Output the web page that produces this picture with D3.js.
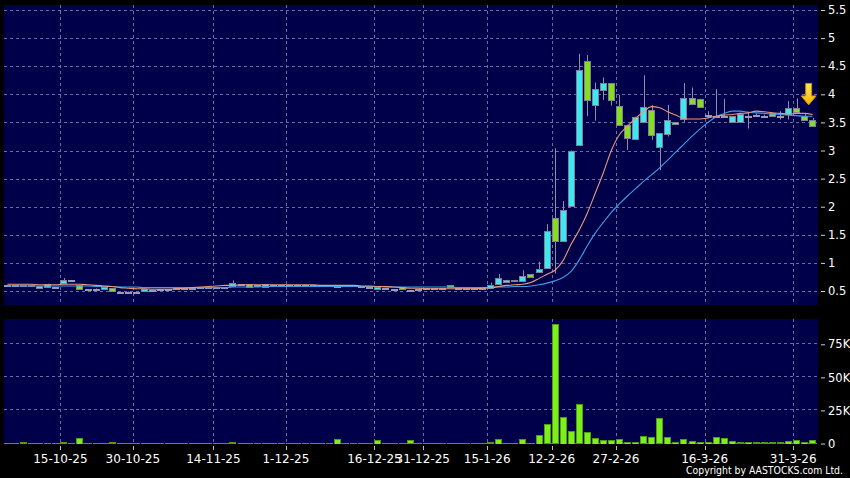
<!DOCTYPE html>
<html><head><meta charset="utf-8">
<script src="https://cdn.jsdelivr.net/npm/d3@7"></script>
<style>html,body{margin:0;padding:0;background:#000;overflow:hidden}svg{display:block}</style>
</head><body><svg id="c" width="850" height="478"></svg>
<script>
// ---------- DATA ----------
const dates = [
 "3-10-25","6-10-25","8-10-25","9-10-25","10-10-25","13-10-25","14-10-25","15-10-25","16-10-25","17-10-25",
 "20-10-25","21-10-25","22-10-25","23-10-25","24-10-25","27-10-25","30-10-25","31-10-25","3-11-25","4-11-25",
 "5-11-25","6-11-25","7-11-25","10-11-25","12-11-25","13-11-25","14-11-25","17-11-25","18-11-25","20-11-25",
 "21-11-25","24-11-25","25-11-25","27-11-25","28-11-25","1-12-25","2-12-25","3-12-25","4-12-25","5-12-25",
 "8-12-25","9-12-25","10-12-25","11-12-25","12-12-25","15-12-25","16-12-25","17-12-25","19-12-25","22-12-25",
 "23-12-25","29-12-25","31-12-25","2-1-26","5-1-26","6-1-26","8-1-26","9-1-26","12-1-26","14-1-26",
 "15-1-26","20-1-26","23-1-26","28-1-26","2-2-26","5-2-26","9-2-26","11-2-26","12-2-26","13-2-26",
 "16-2-26","20-2-26","23-2-26","24-2-26","25-2-26","26-2-26","27-2-26","2-3-26","3-3-26","4-3-26",
 "5-3-26","6-3-26","9-3-26","10-3-26","11-3-26","12-3-26","13-3-26","16-3-26","17-3-26","18-3-26",
 "19-3-26","20-3-26","23-3-26","24-3-26","25-3-26","26-3-26","27-3-26","30-3-26","31-3-26","1-4-26",
 "2-4-26"];
const open = [
 0.60,0.60,0.60,0.59,0.55,0.57,0.58,0.63,0.69,0.60,
 0.54,0.54,0.54,0.55,0.48,0.48,0.48,0.49,0.52,0.53,
 0.54,0.55,0.56,0.56,0.57,0.57,0.58,0.58,0.59,0.63,
 0.62,0.60,0.62,0.60,0.61,0.61,0.60,0.60,0.61,0.60,
 0.60,0.59,0.60,0.60,0.59,0.58,0.54,0.55,0.54,0.57,
 0.51,0.54,0.55,0.55,0.56,0.60,0.56,0.55,0.55,0.56,
 0.54,0.64,0.66,0.67,0.68,0.80,0.84,0.91,1.80,1.39,
 2.02,3.11,4.60,3.80,4.08,4.20,3.80,3.46,3.21,3.51,
 3.72,3.06,3.29,3.47,3.57,3.94,3.92,3.63,3.62,3.62,
 3.51,3.51,3.62,3.63,3.62,3.67,3.62,3.65,3.76,3.61,
 3.55];
const high = [
 0.60,0.61,0.60,0.61,0.59,0.63,0.58,0.73,0.69,0.60,
 0.54,0.55,0.57,0.55,0.48,0.49,0.48,0.53,0.52,0.53,
 0.54,0.55,0.56,0.56,0.57,0.57,0.58,0.58,0.69,0.63,
 0.62,0.60,0.62,0.60,0.61,0.61,0.60,0.60,0.61,0.60,
 0.60,0.59,0.60,0.60,0.59,0.58,0.57,0.55,0.54,0.57,
 0.51,0.54,0.55,0.55,0.56,0.60,0.56,0.55,0.55,0.56,
 0.65,0.80,0.70,0.70,0.87,0.80,1.02,1.69,3.04,2.10,
 3.00,4.72,4.70,4.21,4.30,4.20,3.99,3.46,3.60,4.34,
 3.81,3.31,3.81,3.50,4.20,4.12,3.92,3.70,4.09,3.92,
 3.61,3.65,3.69,3.66,3.64,3.67,3.70,3.88,3.93,3.65,
 3.58];
const low = [
 0.60,0.60,0.59,0.59,0.55,0.57,0.58,0.63,0.69,0.53,
 0.54,0.54,0.54,0.49,0.48,0.48,0.47,0.49,0.52,0.53,
 0.54,0.55,0.56,0.56,0.57,0.57,0.58,0.58,0.59,0.63,
 0.57,0.60,0.57,0.60,0.61,0.61,0.60,0.60,0.61,0.60,
 0.60,0.59,0.60,0.60,0.59,0.58,0.54,0.55,0.54,0.53,
 0.51,0.54,0.55,0.55,0.56,0.57,0.56,0.55,0.55,0.56,
 0.54,0.64,0.66,0.66,0.68,0.74,0.84,0.91,0.81,1.39,
 2.02,3.11,3.61,3.53,3.90,3.80,3.47,3.01,3.21,3.51,
 3.19,2.65,3.25,3.47,3.51,3.83,3.77,3.58,3.60,3.60,
 3.51,3.51,3.39,3.60,3.58,3.61,3.55,3.55,3.69,3.54,
 3.45];
const close = [
 0.60,0.60,0.59,0.60,0.59,0.62,0.58,0.69,0.69,0.53,
 0.54,0.54,0.57,0.49,0.48,0.48,0.48,0.53,0.52,0.53,
 0.54,0.55,0.56,0.56,0.57,0.57,0.58,0.58,0.64,0.63,
 0.57,0.60,0.57,0.60,0.61,0.61,0.60,0.60,0.61,0.60,
 0.60,0.59,0.60,0.60,0.59,0.58,0.57,0.55,0.54,0.53,
 0.51,0.54,0.55,0.55,0.56,0.57,0.56,0.55,0.55,0.56,
 0.60,0.74,0.69,0.69,0.77,0.74,0.90,1.56,1.39,1.95,
 3.00,4.44,3.91,4.09,4.20,3.89,3.47,3.22,3.60,3.78,
 3.28,3.31,3.54,3.50,3.94,3.83,3.77,3.63,3.62,3.62,
 3.61,3.65,3.62,3.63,3.62,3.61,3.62,3.76,3.69,3.54,
 3.45];
const volume = [
 300,200,800,200,300,600,200,800,200,4200,
 300,500,300,800,300,200,200,300,100,200,
 100,200,100,200,100,200,100,200,800,300,
 300,200,300,100,200,100,200,100,200,100,
 200,3500,100,200,100,200,3000,200,300,300,
 2300,300,200,100,200,300,200,300,500,600,
 1000,3500,500,400,3500,500,6500,14400,90000,20200,
 9800,29500,8800,4500,2800,2800,3500,1500,1500,5500,
 5000,19100,5000,1200,3500,2000,1200,1200,5000,4500,
 2000,800,1200,800,800,800,800,2000,2800,1500,
 2500];
const maShort = [
 0.62,0.62,0.62,0.62,0.61,0.61,0.61,0.62,0.62,0.62,
 0.61,0.60,0.59,0.58,0.56,0.55,0.54,0.54,0.53,0.53,
 0.53,0.54,0.55,0.56,0.57,0.58,0.59,0.60,0.60,0.61,
 0.61,0.61,0.61,0.61,0.61,0.61,0.61,0.61,0.61,0.60,
 0.60,0.60,0.60,0.60,0.59,0.59,0.58,0.58,0.57,0.56,
 0.55,0.55,0.54,0.54,0.54,0.54,0.54,0.54,0.54,0.55,
 0.56,0.58,0.60,0.61,0.62,0.65,0.72,0.80,0.87,1.04,
 1.33,1.58,1.88,2.24,2.60,3.00,3.28,3.43,3.57,3.69,
 3.78,3.76,3.69,3.63,3.57,3.56,3.56,3.58,3.61,3.63,
 3.64,3.66,3.67,3.70,3.69,3.67,3.66,3.65,3.66,3.66,
 3.64];
const maLong = [
 0.59,0.59,0.59,0.59,0.59,0.59,0.59,0.59,0.59,0.59,
 0.59,0.58,0.58,0.58,0.57,0.57,0.57,0.56,0.56,0.56,
 0.56,0.56,0.56,0.56,0.56,0.56,0.56,0.56,0.57,0.57,
 0.57,0.57,0.58,0.58,0.58,0.58,0.58,0.58,0.58,0.58,
 0.58,0.58,0.58,0.58,0.58,0.58,0.58,0.57,0.57,0.57,
 0.57,0.57,0.57,0.57,0.57,0.57,0.56,0.56,0.56,0.56,
 0.56,0.57,0.57,0.58,0.58,0.59,0.61,0.64,0.68,0.74,
 0.85,1.05,1.30,1.53,1.72,1.90,2.05,2.19,2.32,2.45,
 2.57,2.69,2.83,2.97,3.11,3.25,3.38,3.50,3.60,3.66,
 3.70,3.70,3.68,3.67,3.66,3.65,3.64,3.63,3.62,3.61,
 3.61];
const priceTicks = [0.5,1,1.5,2,2.5,3,3.5,4,4.5,5,5.5];
const volumeTicks = [0,25000,50000,75000];
const dateTicks = ["15-10-25","30-10-25","14-11-25","1-12-25","16-12-25","31-12-25","15-1-26","12-2-26","27-2-26","16-3-26","31-3-26"];
const copyright = "Copyright by AASTOCKS.com Ltd.";

// ---------- LAYOUT ----------
const L = 4, R = 818;
const mainTop = 5, mainBot = 305, volTop = 319, volBot = 444;
const FONT = "'DejaVu Sans', Verdana, sans-serif";
const NAVY = "#00004a";
const GRID = "#6c6ca4";
const UP = "#3ee8f2", DOWN = "#86de20", FLAT = "#9a9ab8";

const svg = d3.select("#c");
svg.append("rect").attr("width",850).attr("height",478).attr("fill","#000");

const rows = dates.map((d,i)=>({d, o:open[i], h:high[i], l:low[i], c:close[i], v:volume[i], m1:maShort[i], m2:maLong[i]}));

const x = d3.scaleBand().domain(dates).range([L, 816]).paddingInner(0.17).paddingOuter(0);
const bw = x.bandwidth();
const y = d3.scaleLinear().domain([0.5,5.5]).range([291,10]);
const vy = d3.scaleLinear().domain([0,75000]).range([443.5,344.3]);

const crisp = v => Math.round(v)+0.5;

// panels
svg.append("rect").attr("x",L).attr("y",mainTop).attr("width",R-L).attr("height",mainBot-mainTop).attr("fill",NAVY);
svg.append("rect").attr("x",L).attr("y",volTop).attr("width",R-L).attr("height",volBot-volTop).attr("fill",NAVY);

const defs = svg.append("defs");
defs.append("clipPath").attr("id","cm").append("rect").attr("x",L).attr("y",mainTop).attr("width",R-L).attr("height",mainBot-mainTop);
defs.append("clipPath").attr("id","cv").append("rect").attr("x",L).attr("y",volTop).attr("width",R-L).attr("height",volBot-volTop);
const grad = defs.append("linearGradient").attr("id","ag").attr("x1",0).attr("x2",0).attr("y1",0).attr("y2",1);
grad.append("stop").attr("offset","0%").attr("stop-color","#ffe866");
grad.append("stop").attr("offset","100%").attr("stop-color","#f2b400");

// grids
const gm = svg.append("g").attr("clip-path","url(#cm)");
const gv = svg.append("g").attr("clip-path","url(#cv)");
const dash = "3,3";
gm.selectAll("line.h").data(priceTicks).join("line")
  .attr("x1",L).attr("x2",R).attr("y1",d=>crisp(y(d))).attr("y2",d=>crisp(y(d)))
  .attr("stroke",GRID).attr("stroke-dasharray",dash);
gm.selectAll("line.v").data(dateTicks).join("line")
  .attr("x1",d=>crisp(x(d))).attr("x2",d=>crisp(x(d))).attr("y1",mainTop).attr("y2",mainBot)
  .attr("stroke",GRID).attr("stroke-dasharray",dash);
gv.selectAll("line.h").data(volumeTicks).join("line")
  .attr("x1",L).attr("x2",R).attr("y1",d=>crisp(vy(d))-1).attr("y2",d=>crisp(vy(d))-1)
  .attr("stroke",GRID).attr("stroke-dasharray",dash);
gv.selectAll("line.v").data(dateTicks).join("line")
  .attr("x1",d=>crisp(x(d))).attr("x2",d=>crisp(x(d))).attr("y1",volTop).attr("y2",volBot)
  .attr("stroke",GRID).attr("stroke-dasharray",dash);

// candles
const cg = gm.append("g");
cg.selectAll("line.w").data(rows).join("line")
  .attr("x1",d=>crisp(x(d.d)+bw/2)).attr("x2",d=>crisp(x(d.d)+bw/2))
  .attr("y1",d=>y(d.h)).attr("y2",d=>y(d.l))
  .attr("stroke","#8e8ea6").attr("stroke-width",1);
cg.selectAll("rect.b").data(rows).join("rect")
  .attr("x",d=>crisp(x(d.d)))
  .attr("y",d=>Math.round(y(Math.max(d.o,d.c)))+0.5)
  .attr("width",Math.round(bw)-1)
  .attr("height",d=>Math.max(1,Math.round(Math.abs(y(d.o)-y(d.c)))))
  .attr("fill",d=>d.c>d.o?UP:(d.c<d.o?DOWN:FLAT))
  .attr("stroke",d=>d.c===d.o?FLAT:"#7c8494").attr("stroke-width",1);

// moving averages
const line = key => d3.line().x(d=>x(d.d)+bw/2).y(d=>y(d[key])).curve(d3.curveMonotoneX);
gm.append("path").datum(rows).attr("d",line("m2")).attr("fill","none").attr("stroke","#3a9fe8").attr("stroke-width",1.1);
gm.append("path").datum(rows).attr("d",line("m1")).attr("fill","none").attr("stroke","#e8987a").attr("stroke-width",1.1);

// arrow marker above last candle
const last = rows[rows.length-1];
const ax = x(last.d)+bw/2-4, ay = y(last.h)-13;
svg.append("path")
  .attr("transform",`translate(${ax},${ay})`)
  .attr("d","M0,0 L-7.5,-9 L-3,-9 L-3,-21.5 L3,-21.5 L3,-9 L7.5,-9 Z")
  .attr("fill","url(#ag)").attr("stroke","#d48a00").attr("stroke-width",1);

// volume bars
gv.selectAll("rect.v").data(rows).join("rect")
  .attr("x",d=>crisp(x(d.d)))
  .attr("y",d=>Math.round(vy(d.v))+0.5)
  .attr("width",Math.round(bw)-1)
  .attr("height",d=>Math.max(0.5,Math.round(vy(0)-vy(d.v))))
  .attr("fill","#7cf018").attr("stroke","#4e9e10").attr("stroke-width",1);

// right axes
const yAxis = d3.axisRight(y).tickValues(priceTicks).tickSize(4).tickPadding(3).tickFormat(d3.format(""));
const ga = svg.append("g").attr("transform","translate(821,0)").call(yAxis);
const vAxis = d3.axisRight(vy).tickValues(volumeTicks).tickSize(4).tickPadding(3).tickFormat(d=>d===0?"0":(d/1000)+"K");
const gb = svg.append("g").attr("transform","translate(821,0)").call(vAxis);
[ga,gb].forEach(g=>{
  g.select(".domain").remove();
  g.selectAll("line").attr("stroke","#cfcfcf");
  g.selectAll("text").attr("fill","#fff").attr("font-family",FONT).attr("font-size","11.5px");
});

// bottom date axis
const gx = svg.append("g");
gx.selectAll("line").data(dateTicks).join("line")
  .attr("x1",d=>crisp(x(d))).attr("x2",d=>crisp(x(d))).attr("y1",446).attr("y2",450)
  .attr("stroke","#bdbdbd");
gx.selectAll("text").data(dateTicks).join("text")
  .attr("x",d=>x(d)).attr("y",462.5).attr("text-anchor","middle")
  .attr("fill","#fff").attr("font-family",FONT).attr("font-size","12px").text(d=>d);

svg.append("text").attr("x",686).attr("y",474).attr("fill","#fff")
  .attr("font-family",FONT).attr("font-size","11px")
  .attr("textLength",157).attr("lengthAdjust","spacingAndGlyphs").text(copyright);
</script></body></html>
